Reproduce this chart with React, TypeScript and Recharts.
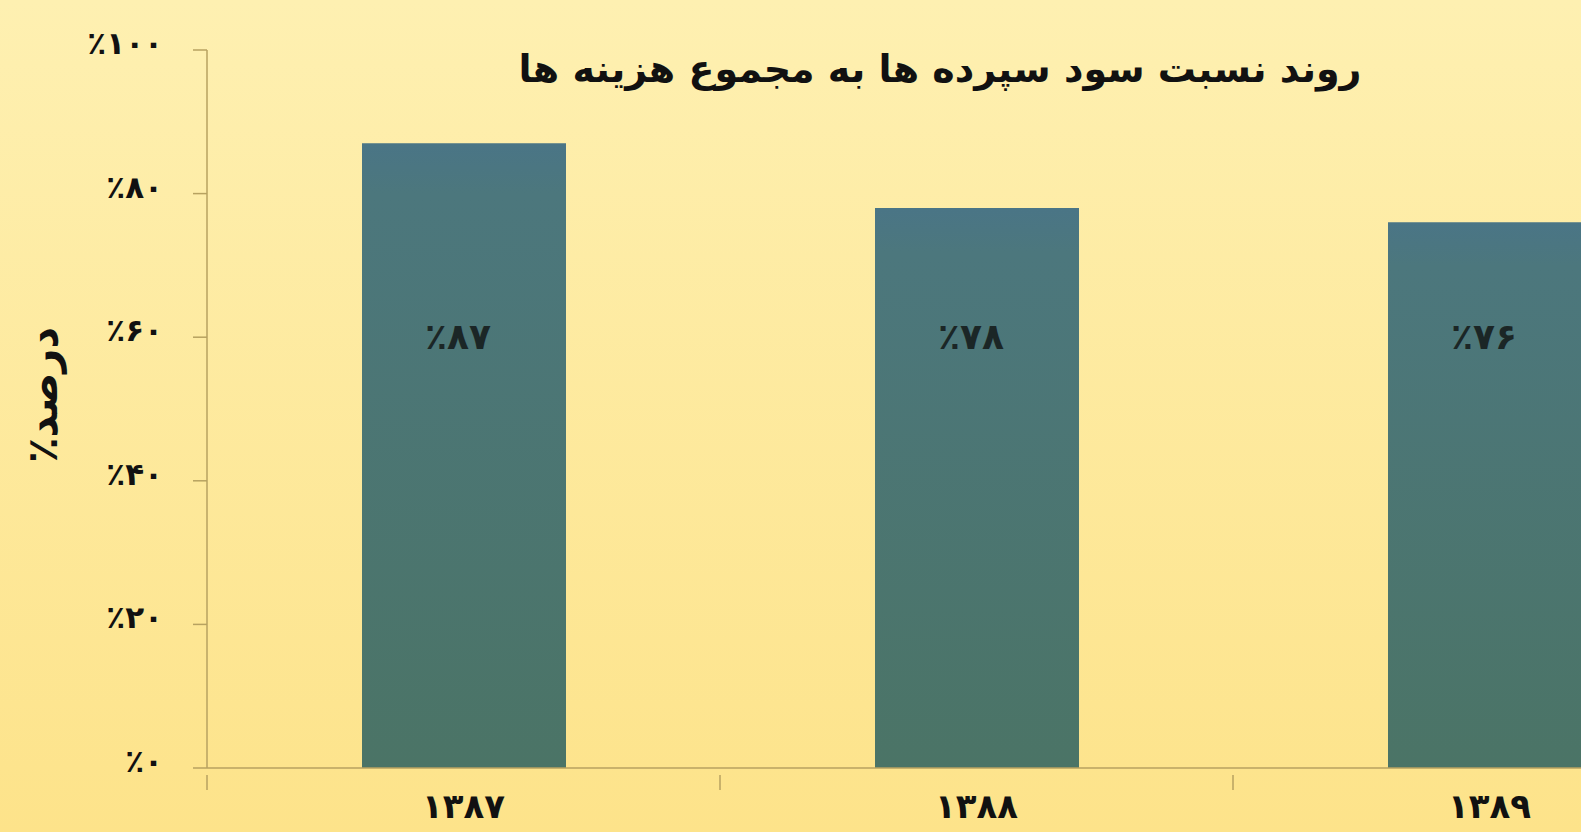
import { BarChart, Bar, XAxis, YAxis, LabelList } from 'recharts';

const years = ['۱۳۸۷', '۱۳۸۸', '۱۳۸۹'];
const ratios = [87, 78, 76];
const yTicks = [0, 20, 40, 60, 80, 100];

const TITLE = 'روند نسبت سود سپرده ها به مجموع هزینه ها';
const Y_LABEL = 'درصد٪';

const FONT = '"DejaVu Sans", sans-serif';
const AXIS = '#B7A260';

const data = years.map((year, i) => ({ year, value: ratios[i] }));

const fa = (n: number) => String(n).replace(/\d/g, (d) => '۰۱۲۳۴۵۶۷۸۹'[Number(d)]);

function YTick({ x, y, payload }: any) {
  return (
    <text
      x={x}
      y={y}
      dy={-7}
      textAnchor="end"
      dominantBaseline="central"
      fill="#111"
      style={{ fontFamily: FONT, fontSize: 31, fontWeight: 700 }}
    >
      {'٪' + fa(payload.value)}
    </text>
  );
}

function XTick({ x, y, payload }: any) {
  const half = payload.offset ?? 0;
  return (
    <g>
      <line x1={x - half} y1={y - 1} x2={x - half} y2={y + 14} stroke={AXIS} strokeWidth={1.5} />
      <text
        x={x}
        y={y + 30}
        textAnchor="middle"
        dominantBaseline="central"
        fill="#111"
        style={{ fontFamily: FONT, fontSize: 34, fontWeight: 700 }}
      >
        {payload.value}
      </text>
    </g>
  );
}

function BarLabel({ x, y, width, height, value }: any) {
  return (
    <text
      x={x + width / 2 - 6}
      y={y + height - 432}
      textAnchor="middle"
      dominantBaseline="central"
      fill="#1b2626"
      style={{ fontFamily: FONT, fontSize: 36, fontWeight: 700 }}
    >
      {'٪' + fa(value)}
    </text>
  );
}

export default function App() {
  return (
    <div
      style={{
        position: 'fixed',
        left: 0,
        top: 0,
        width: 1581,
        height: 832,
        overflow: 'hidden',
        background: 'linear-gradient(to bottom, #FEF0B1, #FDE38A)',
      }}
    >
      <div
        style={{
          position: 'absolute',
          left: 470,
          width: 940,
          top: 44,
          textAlign: 'center',
          direction: 'rtl',
          fontFamily: FONT,
          fontSize: 38,
          fontWeight: 700,
          color: '#111',
          lineHeight: '50px',
        }}
      >
        {TITLE}
      </div>
      <div
        style={{
          position: 'absolute',
          left: 42,
          top: 395,
          transform: 'translate(-50%, -50%) rotate(-90deg)',
          direction: 'rtl',
          fontFamily: FONT,
          fontSize: 42,
          fontWeight: 700,
          color: '#111',
          whiteSpace: 'nowrap',
        }}
      >
        {Y_LABEL}
      </div>
      <BarChart
        width={1780}
        height={832}
        data={data}
        margin={{ top: 50, right: 34, bottom: 0, left: 0 }}
        style={{ position: 'absolute', left: 0, top: 0 }}
      >
        <defs>
          <linearGradient id="barFill" x1="0" y1="0" x2="0" y2="1">
            <stop offset="0%" stopColor="#4A7586" />
            <stop offset="8%" stopColor="#4C777D" />
            <stop offset="100%" stopColor="#4B7466" />
          </linearGradient>
        </defs>
        <XAxis
          dataKey="year"
          axisLine={{ stroke: AXIS, strokeWidth: 1.5 }}
          tickLine={false}
          tick={<XTick />}
          height={64}
          interval={0}
        />
        <YAxis
          domain={[0, 100]}
          ticks={yTicks}
          width={207}
          axisLine={{ stroke: AXIS, strokeWidth: 1.5 }}
          tickLine={{ stroke: AXIS, strokeWidth: 1.5 }}
          tickSize={14}
          tickMargin={30}
          tick={<YTick />}
        />
        <Bar dataKey="value" barSize={204} fill="url(#barFill)" isAnimationActive={false}>
          <LabelList dataKey="value" content={<BarLabel />} />
        </Bar>
      </BarChart>
    </div>
  );
}
